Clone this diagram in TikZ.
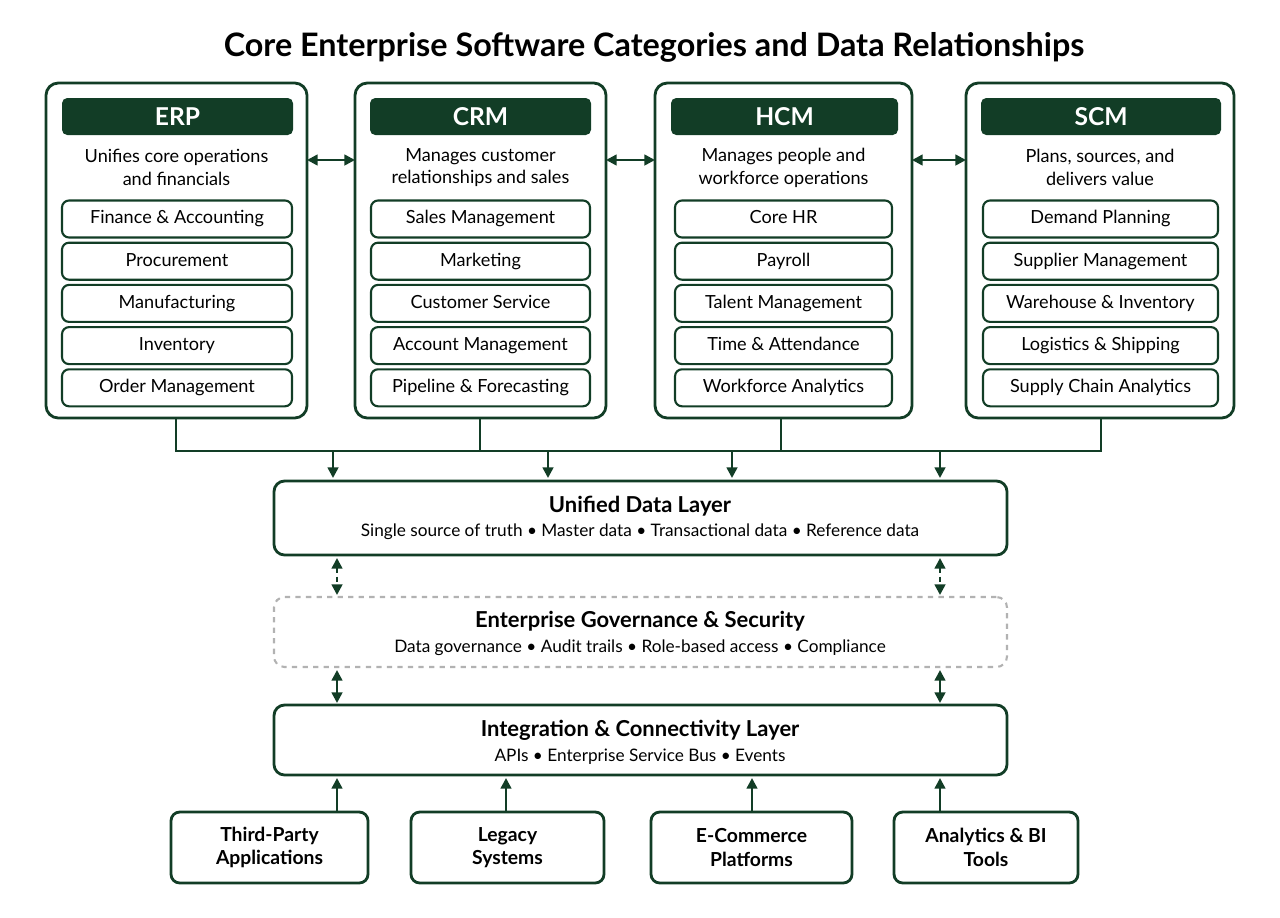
\documentclass[tikz,border=0pt]{standalone}
\usepackage{fontspec}
\setmainfont{Lato}
\usetikzlibrary{arrows.meta}
\definecolor{dkgreen}{HTML}{123D26}
\tikzset{
  panel/.style={draw=dkgreen,line width=1.6pt,rounded corners=7pt,minimum width=#1},
  hdr/.style={fill=dkgreen,rounded corners=3pt,text=white,font=\fontsize{14}{16}\selectfont\bfseries,inner sep=0pt,text height=10pt,text depth=0pt},
  item/.style={draw=dkgreen,line width=1.2pt,rounded corners=4pt,inner sep=0pt,font=\fontsize{10.3}{12}\selectfont,text height=7.5pt,text depth=2pt},
  desc/.style={align=center,font=\fontsize{10.3}{13}\selectfont},
  layer/.style={draw=dkgreen,line width=1.6pt,rounded corners=6pt,inner sep=0pt},
  ltitle/.style={font=\fontsize{12.5}{14}\selectfont\bfseries},
  lsub/.style={font=\fontsize{9.8}{12}\selectfont},
  src/.style={draw=dkgreen,line width=1.6pt,rounded corners=5pt,inner sep=0pt,align=center,font=\fontsize{11}{13.5}\selectfont\bfseries},
  link/.style={dkgreen,line width=1.4pt},
  arr/.style={link,-{Triangle[width=6pt,length=6pt]}},
  darr/.style={link,{Triangle[width=6pt,length=6pt]}-{Triangle[width=6pt,length=6pt]}}
}
\newcommand{\panelbox}[7]{% name, x1, x2, header, desc, header x1, header x2
  \draw[panel] (#2,83) rectangle (#3,418);
  \node[hdr,minimum width={(#7-#6)*0.02cm},minimum height={37*0.02cm}] (#1h) at ({(#6+#7)/2},116.5) {#4};
  \node[desc] (#1d) at ({(#2+#3)/2},167.5) {#5};
}
\begin{document}
\begin{tikzpicture}[x=0.02cm,y=-0.02cm]
\useasboundingbox (0,0) rectangle (1280,917);
\node[font=\fontsize{18.4}{21}\selectfont\bfseries] (title) at (654,47) {Core Enterprise Software Categories and Data Relationships};
%
\panelbox{erp}{46}{307}{ERP}{Unifies core operations\\and financials}{62}{293}
\panelbox{crm}{355}{606}{CRM}{Manages customer\\relationships and sales}{370}{591}
\panelbox{hcm}{655}{912}{HCM}{Manages people and\\workforce operations}{671}{898}
\panelbox{scm}{966}{1234}{SCM}{Plans, sources, and\\delivers value}{981}{1221}
%
\foreach \nm/\xa/\xb/\lst in {
  erp/62/292/{Finance \& Accounting,Procurement,Manufacturing,Inventory,Order Management},
  crm/371/590/{Sales Management,Marketing,Customer Service,Account Management,Pipeline \& Forecasting},
  hcm/675/892/{Core HR,Payroll,Talent Management,Time \& Attendance,Workforce Analytics},
  scm/983/1218/{Demand Planning,Supplier Management,Warehouse \& Inventory,Logistics \& Shipping,Supply Chain Analytics}}{
  \foreach \t [count=\i] in \lst {
    \node[item,minimum width={(\xb-\xa)*0.02cm},minimum height={37*0.02cm}] (\nm\i) at ({(\xa+\xb)/2},{219+42.2*(\i-1)}) {\t};
  }
}
%
\coordinate (p1) at (307,160); \coordinate (p2) at (355,160);
\coordinate (p3) at (606,160); \coordinate (p4) at (655,160);
\coordinate (p5) at (912,160); \coordinate (p6) at (966,160);
\draw[darr] (p1) -- (p2);
\draw[darr] (p3) -- (p4);
\draw[darr] (p5) -- (p6);
%
\node[layer,minimum width={733*0.02cm},minimum height={74*0.02cm}] (udl) at (640.5,518) {};
\node[ltitle] at (640,506) {Unified Data Layer};
\node[lsub] at (640,532) {Single source of truth • Master data • Transactional data • Reference data};
\node[layer,draw=gray!60,dashed,line width=1.2pt,minimum width={733*0.02cm},minimum height={70*0.02cm}] (gov) at (640.5,632) {};
\node[ltitle] at (640,621) {Enterprise Governance \& Security};
\node[lsub] at (640,648) {Data governance • Audit trails • Role-based access • Compliance};
\node[layer,minimum width={733*0.02cm},minimum height={70*0.02cm}] (icl) at (640.5,740) {};
\node[ltitle] at (640,730) {Integration \& Connectivity Layer};
\node[lsub] at (640,757) {APIs • Enterprise Service Bus • Events};
%
\draw[link] (176,418) -- (176,451) -- (1101,451) -- (1101,418);
\draw[link] (480,418) -- (480,451);
\draw[link] (781,418) -- (781,451);
\foreach \x in {333,548,732,940} \draw[arr] (\x,451) -- (\x,478);
\foreach \x in {337,940} {
  \draw[darr,densely dashed] (\x,558) -- (\x,595);
  \draw[darr] (\x,670) -- (\x,703);
}
%
\node[src,minimum width={197*0.02cm},minimum height={71*0.02cm}] (tpa) at (269.5,847.5) {Third-Party\\Applications};
\node[src,minimum width={193*0.02cm},minimum height={71*0.02cm}] (leg) at (507.5,847.5) {Legacy\\Systems};
\node[src,minimum width={201*0.02cm},minimum height={71*0.02cm}] (ecp) at (751.5,847.5) {E-Commerce\\Platforms};
\node[src,minimum width={184*0.02cm},minimum height={71*0.02cm}] (abi) at (986,847.5) {Analytics \& BI\\Tools};
\draw[arr] (tpa.north -| 337,0) -- (337,778);
\draw[arr] (leg.north -| 506,0) -- (506,778);
\draw[arr] (ecp.north -| 752,0) -- (752,778);
\draw[arr] (abi.north -| 940,0) -- (940,778);
\end{tikzpicture}
\end{document}
